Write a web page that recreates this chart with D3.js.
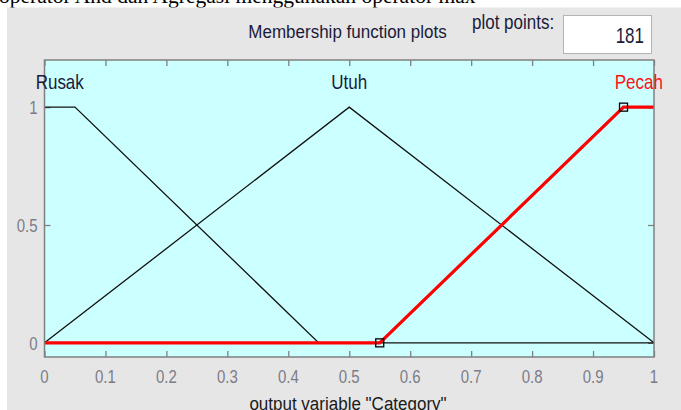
<!DOCTYPE html>
<html>
<head>
<meta charset="utf-8">
<script src="https://cdn.jsdelivr.net/npm/d3@7/dist/d3.min.js"></script>
<style>
  html, body { margin: 0; padding: 0; background: #ffffff; }
  svg { display: block; }
  text { font-family: "Liberation Sans", Arial, sans-serif; }
</style>
</head>
<body>
<svg id="chart" width="681" height="410"></svg>
<script>
// Output variable "Category": membership functions (vertex lists)
const mfNames = ["Rusak", "Utuh", "Pecah"];
const rusakX = [0, 0.05, 0.45, 1];
const rusakY = [1, 1, 0, 0];
const utuhX = [0, 0.5, 1];
const utuhY = [0, 1, 0];
const pecahX = [0, 0.55, 0.95, 1];
const pecahY = [0, 0, 1, 1];
// label anchor (centre of each function's top)
const labelX = [0.025, 0.5, 0.975];
// corner handles of the selected function
const handleX = [0.55, 0.95];
const handleY = [0, 1];

const xTicks = [0, 0.1, 0.2, 0.3, 0.4, 0.5, 0.6, 0.7, 0.8, 0.9, 1];
const xTickLabels = ["0", "0.1", "0.2", "0.3", "0.4", "0.5", "0.6", "0.7", "0.8", "0.9", "1"];
const yTicks = [0, 0.5, 1];
const yTickLabels = ["0", "0.5", "1"];
const plotPoints = "181";

const svg = d3.select("#chart");

// caption line above the window (cut off by the frame)
svg.append("text")
  .attr("x", -1).attr("y", 2.5)
  .style("font-family", "'Liberation Serif', 'Times New Roman', serif")
  .style("font-size", "21.5px")
  .attr("fill", "#000")
  .text("operator And dan Agregasi menggunakan operator max");

// window panel
svg.append("rect").attr("x", 7).attr("y", 7.5).attr("width", 674).attr("height", 403).attr("fill", "#e6e6e6");

// stretched text helper
function stext(parent, px, py, str, opts) {
  const g = parent.append("g").attr("transform", `translate(${px},${py}) scale(${opts.sx || 1},${opts.sy || 1})`);
  const t = g.append("text")
    .attr("x", 0).attr("y", 0)
    .attr("text-anchor", opts.anchor || "start")
    .style("font-size", (opts.size || 17) + "px")
    .attr("fill", opts.fill || "#000")
    .text(str);
  if (opts.weight) t.style("font-weight", opts.weight);
  return t;
}

// header
stext(svg, 347.5, 38, "Membership function plots", { anchor: "middle", size: 17, sy: 1.05, fill: "#1a1a3a" });
stext(svg, 472, 28.5, "plot points:", { size: 17, sy: 1.15, fill: "#1a1a3a" });
svg.append("rect").attr("x", 563.5).attr("y", 15.5).attr("width", 88).attr("height", 38)
  .attr("fill", "#ffffff").attr("stroke", "#b4b4b4").attr("stroke-width", 1);
stext(svg, 644, 43, plotPoints, { anchor: "end", size: 17, sy: 1.3, fill: "#1a1a3a" });

// plot area
const pLeft = 44.5, pRight = 654, pTop = 60, pBottom = 357;
const x = d3.scaleLinear().domain([0, 1]).range([pLeft, pRight]);
const y = d3.scaleLinear().domain([-0.06, 1.2]).range([pBottom, pTop]);

svg.append("rect").attr("x", pLeft).attr("y", pTop).attr("width", pRight - pLeft).attr("height", pBottom - pTop)
  .attr("fill", "#ccffff");

// inward ticks on all four sides
const axisColor = "#808080";
function styleAxis(g) {
  g.select(".domain").remove();
  g.selectAll(".tick line").attr("stroke", axisColor).attr("stroke-width", 1.3);
  g.selectAll(".tick text").remove();
}
svg.append("g").attr("transform", `translate(0,${pBottom})`)
  .call(d3.axisBottom(x).tickValues(xTicks).tickSize(-6)).call(styleAxis);
svg.append("g").attr("transform", `translate(0,${pTop})`)
  .call(d3.axisTop(x).tickValues(xTicks).tickSize(-6)).call(styleAxis);
svg.append("g").attr("transform", `translate(${pLeft},0)`)
  .call(d3.axisLeft(y).tickValues(yTicks).tickSize(-6)).call(styleAxis);
svg.append("g").attr("transform", `translate(${pRight},0)`)
  .call(d3.axisRight(y).tickValues(yTicks).tickSize(-6)).call(styleAxis);

// membership function curves
const line = d3.line().x(d => x(d[0])).y(d => y(d[1]));
const zip = (a, b) => a.map((v, i) => [v, b[i]]);

svg.append("path").datum(zip(rusakX, rusakY)).attr("d", line)
  .attr("fill", "none").attr("stroke", "#111").attr("stroke-width", 1.3);
svg.append("path").datum(zip(utuhX, utuhY)).attr("d", line)
  .attr("fill", "none").attr("stroke", "#111").attr("stroke-width", 1.3);
svg.append("path").datum(zip(pecahX, pecahY)).attr("d", line)
  .attr("fill", "none").attr("stroke", "#ff0000").attr("stroke-width", 3.2).attr("stroke-linejoin", "miter");

// handles on the selected function
svg.selectAll("rect.handle").data(zip(handleX, handleY)).enter().append("rect")
  .attr("class", "handle")
  .attr("x", d => x(d[0]) - 4).attr("y", d => y(d[1]) - 4)
  .attr("width", 8).attr("height", 8)
  .attr("fill", "none").attr("stroke", "#000").attr("stroke-width", 1.3);

// plot frame
svg.append("rect").attr("x", pLeft).attr("y", pTop).attr("width", pRight - pLeft).attr("height", pBottom - pTop)
  .attr("fill", "none").attr("stroke", axisColor).attr("stroke-width", 1.5);

// function names
const labelColors = ["#1a1a3a", "#1a1a3a", "#ff1010"];
mfNames.forEach((n, i) => {
  stext(svg, x(labelX[i]), 89, n, { anchor: "middle", size: 17, sy: 1.22, fill: labelColors[i] });
});

// tick labels
const tickColor = "#7c7c88";
xTicks.forEach((v, i) => {
  stext(svg, x(v), 383, xTickLabels[i], { anchor: "middle", size: 15, sy: 1.25, fill: tickColor });
});
yTicks.forEach((v, i) => {
  stext(svg, 37.5, y(v) + 6.7, yTickLabels[i], { anchor: "end", size: 15, sy: 1.25, fill: tickColor });
});

// axis title
stext(svg, 348, 410, 'output variable "Category"', { anchor: "middle", size: 17, sy: 1.05, fill: "#1a1a1a" });
</script>
</body>
</html>
